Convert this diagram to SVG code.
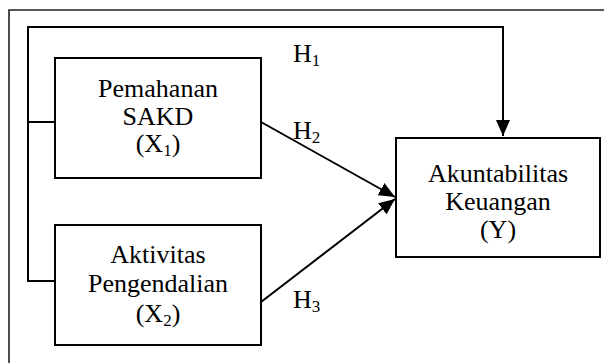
<svg xmlns="http://www.w3.org/2000/svg" width="604" height="363" viewBox="0 0 604 363">
<style>
.box{fill:#fff;stroke:#000;stroke-width:2}
.ln{fill:none;stroke:#000;stroke-width:2}
.frame{fill:none;stroke:#222;stroke-width:1.6}
text{font-family:"Liberation Serif","Times New Roman",serif;font-size:26px;fill:#000}
.c{text-anchor:middle}
.sub{font-size:17px}
</style>
<defs>
<marker id="ah" markerUnits="userSpaceOnUse" markerWidth="18" markerHeight="14" refX="16" refY="7" orient="auto">
<path d="M0,0 L16,7 L0,14 z" fill="#000"/>
</marker>
</defs>
<rect width="604" height="363" fill="#fff"/>
<path class="frame" d="M9,363 V10 H604"/>
<g id="connectors">
<path class="ln" d="M55,122 H28"/>
<path class="ln" d="M55,281 H28 V27 H503 V136" marker-end="url(#ah)"/>
<line class="ln" x1="261" y1="122" x2="395" y2="197" marker-end="url(#ah)"/>
<line class="ln" x1="261" y1="302" x2="395" y2="199" marker-end="url(#ah)"/>
<text x="293" y="62">H<tspan class="sub" dy="4">1</tspan></text>
<text x="293" y="139">H<tspan class="sub" dy="4">2</tspan></text>
<text x="293" y="308">H<tspan class="sub" dy="4">3</tspan></text>
</g>
<g id="x1">
<rect class="box" x="55" y="58" width="206" height="120"/>
<text class="c" x="158" y="97">Pemahanan</text>
<text class="c" x="158" y="125">SAKD</text>
<text class="c" x="158" y="152">(X<tspan class="sub" dy="4">1</tspan><tspan dy="-4">)</tspan></text>
</g>
<g id="x2">
<rect class="box" x="55" y="225" width="206" height="120"/>
<text class="c" x="158" y="263">Aktivitas</text>
<text class="c" x="158" y="292">Pengendalian</text>
<text class="c" x="158" y="322">(X<tspan class="sub" dy="4">2</tspan><tspan dy="-4">)</tspan></text>
</g>
<g id="y">
<rect class="box" x="396" y="138" width="204" height="119"/>
<text class="c" x="498" y="182">Akuntabilitas</text>
<text class="c" x="498" y="210">Keuangan</text>
<text class="c" x="498" y="238">(Y)</text>
</g>
</svg>
